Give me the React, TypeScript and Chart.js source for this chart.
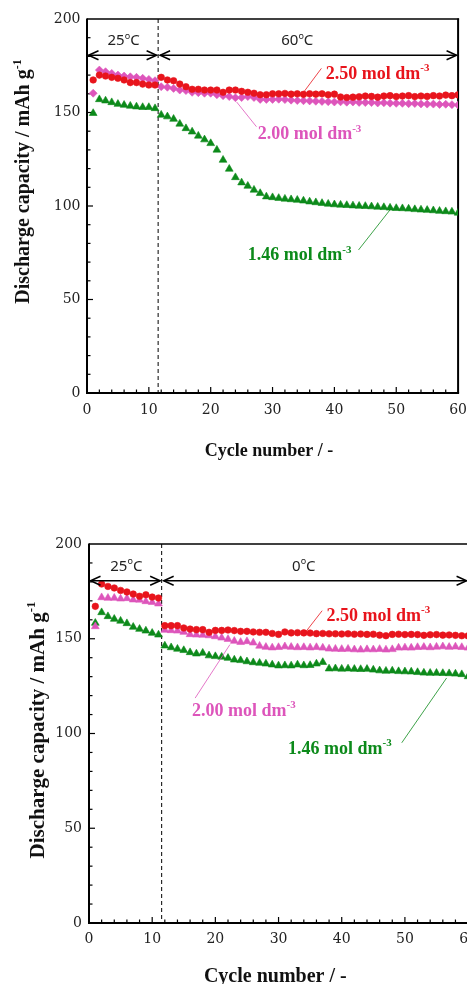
import React, { useEffect, useRef } from "react";
import { Chart, registerables } from "chart.js";

Chart.register(...registerables);

// ---------------- data ----------------
const cycles = [
  1, 2, 3, 4, 5, 6, 7, 8, 9, 10, 11, 12, 13, 14, 15, 16, 17, 18, 19, 20,
  21, 22, 23, 24, 25, 26, 27, 28, 29, 30, 31, 32, 33, 34, 35, 36, 37, 38, 39, 40,
  41, 42, 43, 44, 45, 46, 47, 48, 49, 50, 51, 52, 53, 54, 55, 56, 57, 58, 59, 60,
];

// Upper panel: 25 °C -> 60 °C
const top250 = [
  167.4, 170.0, 169.5, 168.8, 168.3, 167.4, 166.0, 166.0, 165.2, 164.7,
  164.7, 168.8, 167.4, 167.0, 165.2, 163.8, 162.4, 162.4, 162.0, 162.0,
  162.0, 160.8, 162.0, 162.0, 161.3, 160.8, 160.3, 159.5, 159.5, 160.0,
  160.0, 160.2, 159.8, 160.0, 159.7, 160.0, 159.8, 160.0, 159.5, 159.8,
  158.3, 158.0, 158.2, 158.4, 158.8, 158.6, 158.2, 158.8, 159.0, 158.5,
  158.8, 159.0, 158.5, 158.8, 158.6, 159.0, 158.8, 159.3, 159.0, 159.4,
];
const top200 = [
  160.3, 172.7, 171.8, 170.9, 170.0, 169.5, 169.1, 168.8, 168.3, 167.7,
  167.0, 163.8, 163.5, 162.9, 162.0, 161.7, 160.8, 160.6, 160.3, 160.3,
  159.5, 159.0, 158.5, 157.9, 158.0, 158.5, 158.0, 157.0, 157.0, 157.0,
  157.1, 156.9, 156.6, 156.4, 156.3, 156.2, 156.0, 155.9, 155.8, 155.6,
  155.7, 155.5, 155.6, 155.4, 155.3, 155.3, 155.1, 155.2, 155.0, 154.9,
  154.9, 154.7, 154.8, 154.6, 154.5, 154.5, 154.3, 154.4, 154.2, 154.0,
];
const top146 = [
  149.6, 157.0, 156.3, 155.4, 154.5, 154.0, 153.5, 153.1, 152.8, 152.8,
  152.2, 148.7, 147.8, 146.5, 143.9, 141.5, 139.7, 137.5, 135.5, 133.5,
  130.0, 124.6, 119.8, 115.3, 112.5, 110.7, 108.6, 106.8, 105.0, 104.6,
  104.2, 103.8, 103.5, 103.2, 102.8, 102.3, 101.9, 101.5, 101.1, 100.8,
  100.6, 100.4, 100.2, 100.0, 99.9, 99.7, 99.5, 99.3, 99.0, 98.8,
  98.7, 98.5, 98.2, 98.0, 97.8, 97.6, 97.3, 97.1, 96.9, 96.3,
];

// Lower panel: 25 °C -> 0 °C
const bot250 = [
  167.1, 178.9, 177.6, 176.8, 175.5, 174.7, 173.6, 172.4, 173.2, 172.0,
  171.5, 156.9, 156.9, 156.9, 155.7, 155.1, 154.8, 154.8, 153.4, 154.4,
  154.4, 154.6, 154.3, 153.9, 153.9, 153.6, 153.4, 153.4, 152.8, 152.3,
  153.6, 153.1, 153.2, 153.1, 153.0, 152.7, 152.8, 152.6, 152.6, 152.5,
  152.6, 152.4, 152.5, 152.3, 152.4, 151.9, 151.6, 152.3, 152.4, 152.2,
  152.3, 152.2, 151.8, 152.1, 152.2, 151.9, 152.0, 151.8, 151.6, 151.5,
];
const bot200 = [
  156.5, 171.8, 171.5, 171.5, 171.1, 171.3, 170.6, 170.5, 169.7, 169.3,
  168.5, 154.6, 154.4, 154.2, 153.5, 152.3, 152.1, 152.0, 151.7, 151.2,
  150.5, 149.8, 148.8, 148.2, 148.6, 147.9, 146.2, 145.6, 145.3, 145.5,
  145.9, 145.6, 145.4, 145.5, 145.3, 145.5, 145.2, 144.7, 144.6, 144.5,
  144.6, 144.3, 144.2, 144.4, 144.3, 144.5, 144.2, 144.4, 145.2, 145.3,
  145.2, 145.5, 145.6, 145.4, 145.7, 145.9, 145.6, 145.8, 145.5, 145.2,
];
const bot146 = [
  158.3, 163.9, 161.8, 160.4, 159.4, 158.1, 156.2, 155.1, 154.2, 153.0,
  152.1, 146.3, 145.4, 144.6, 143.9, 142.8, 142.1, 142.5, 141.1, 140.7,
  140.4, 139.8, 138.9, 138.6, 138.0, 137.5, 137.2, 136.8, 136.3, 135.8,
  135.9, 135.8, 136.3, 135.9, 136.0, 136.8, 137.6, 134.2, 134.3, 134.1,
  134.2, 134.0, 133.9, 134.0, 133.6, 133.2, 133.0, 133.1, 132.8, 132.7,
  132.6, 132.3, 132.0, 131.9, 131.9, 131.8, 131.7, 131.5, 131.2, 130.1,
];

const seriesNames = ["2.50 mol dm", "2.00 mol dm", "1.46 mol dm"];
const seriesExp = "-3";
const topTemps = ["25", "60"];
const botTemps = ["25", "0"];
const xTitle = "Cycle number / -";
const yTitle = "Discharge capacity / mAh g";
const yTitleExp = "-1";
const switchCycle = 11.5;

// ---------------- styles ----------------
const RED = "#e8141c";
const PINK = "#dd55bb";
const GREEN = "#0c8a1a";
const SERIF = '"Liberation Serif", "Times New Roman", serif';
const TICKF = '"DejaVu Serif", serif';
const SANS = '"Noto Sans", Lato, sans-serif';

type Part = { t: string; sup?: boolean };

function drawRich(
  ctx: CanvasRenderingContext2D,
  parts: Part[],
  x: number,
  yc: number,
  size: number,
  family: string,
  weight: string,
  color: string,
  align: "left" | "center"
) {
  ctx.save();
  ctx.fillStyle = color;
  ctx.textBaseline = "alphabetic";
  ctx.textAlign = "left";
  const fontOf = (p: Part) =>
    `${weight} ${p.sup ? Math.round(size * 0.62) : size}px ${family}`;
  const widths = parts.map((p) => {
    ctx.font = fontOf(p);
    return ctx.measureText(p.t).width;
  });
  const total = widths.reduce((a, b) => a + b, 0);
  let cx = align === "center" ? x - total / 2 : x;
  const base = yc + size * 0.34;
  parts.forEach((p, i) => {
    ctx.font = fontOf(p);
    ctx.fillText(p.t, cx, p.sup ? base - size * 0.42 : base);
    cx += widths[i];
  });
  ctx.restore();
}

function drawArrow(ctx: CanvasRenderingContext2D, x1: number, x2: number, y: number) {
  ctx.save();
  ctx.strokeStyle = "#000";
  ctx.lineWidth = 1.5;
  ctx.beginPath();
  ctx.moveTo(x1, y);
  ctx.lineTo(x2, y);
  ctx.stroke();
  const head = (xt: number, dir: number) => {
    ctx.beginPath();
    ctx.moveTo(xt + dir * 10, y - 4.5);
    ctx.lineTo(xt, y);
    ctx.lineTo(xt + dir * 10, y + 4.5);
    ctx.stroke();
  };
  head(x1, 1);
  head(x2, -1);
  ctx.restore();
}

type Note = { text: string; color: string; x: number; y: number; line: number[] };

type Panel = {
  width: number;
  height: number;
  top: number;
  padTop: number;
  padRight: number;
  yWidth: number;
  xHeight: number;
  yTickPad: number;
  xTickPad: number;
  series: number[][];
  styles: string[];
  temps: string[];
  notes: Note[];
  yTitlePos: [number, number, number];
  xTitlePos: [number, number, number];
  rightBorder: boolean;
};

const topPanel: Panel = {
  width: 476,
  height: 490,
  top: 0,
  padTop: 19,
  padRight: 0,
  yWidth: 87,
  xHeight: 97,
  yTickPad: 6.5,
  xTickPad: 9,
  series: [top250, top200, top146],
  styles: ["circle", "rectRot", "triangle"],
  temps: topTemps,
  notes: [
    { text: seriesNames[0], color: RED, x: 38.6, y: 171.3, line: [37.9, 173.6, 34.9, 160.3] },
    { text: seriesNames[1], color: PINK, x: 27.6, y: 138.9, line: [27.4, 142.4, 24.2, 155.6] },
    { text: seriesNames[2], color: GREEN, x: 26.0, y: 74.3, line: [43.9, 76.5, 49.2, 98.8] },
  ],
  yTitlePos: [22.5, 181.5, 20],
  xTitlePos: [269, 450, 18],
  rightBorder: true,
};

const botPanel: Panel = {
  width: 485,
  height: 500,
  top: 500,
  padTop: 44,
  padRight: 0,
  yWidth: 89,
  xHeight: 77,
  yTickPad: 7,
  xTickPad: 8,
  series: [bot250, bot200, bot146],
  styles: ["circle", "triangle", "triangle"],
  temps: botTemps,
  notes: [
    { text: seriesNames[0], color: RED, x: 37.6, y: 162.7, line: [36.9, 164.8, 34.2, 153.2] },
    { text: seriesNames[1], color: PINK, x: 16.3, y: 112.6, line: [16.8, 118.7, 22.3, 146.9] },
    { text: seriesNames[2], color: GREEN, x: 31.5, y: 92.6, line: [49.5, 95.1, 56.6, 129.3] },
  ],
  yTitlePos: [36.7, 230, 21],
  xTitlePos: [275.3, 475, 20],
  rightBorder: false,
};

const COLORS = [RED, PINK, GREEN];
const RADII: Record<string, number> = { circle: 3.3, rectRot: 4, triangle: 4.5 };

function makeChart(canvas: HTMLCanvasElement, p: Panel) {
  const deco = {
    id: "deco",
    beforeDatasetsDraw(chart: any) {
      const { ctx, chartArea: a, scales } = chart;
      const x = scales.x;
      const y = scales.y;
      ctx.save();
      // dashed separator
      const sx = x.getPixelForValue(switchCycle);
      ctx.strokeStyle = "#000";
      ctx.lineWidth = 1;
      ctx.setLineDash([4, 3]);
      ctx.beginPath();
      ctx.moveTo(sx, a.top);
      ctx.lineTo(sx, a.bottom);
      ctx.stroke();
      ctx.setLineDash([]);
      // inward ticks
      ctx.lineWidth = 1.2;
      for (let v = 10; v < 200; v += 10) {
        const py = y.getPixelForValue(v);
        const len = v % 50 === 0 ? 6 : 3.5;
        ctx.beginPath();
        ctx.moveTo(a.left, py);
        ctx.lineTo(a.left + len, py);
        ctx.stroke();
      }
      for (let c = 2; c < 60; c += 2) {
        const px = x.getPixelForValue(c);
        const len = c % 10 === 0 ? 6 : 3.5;
        ctx.beginPath();
        ctx.moveTo(px, a.bottom);
        ctx.lineTo(px, a.bottom - len);
        ctx.stroke();
      }
      // frame
      ctx.lineWidth = 1.5;
      ctx.beginPath();
      ctx.moveTo(a.left, a.top);
      ctx.lineTo(a.right + 1, a.top);
      ctx.stroke();
      ctx.lineWidth = 2;
      ctx.beginPath();
      ctx.moveTo(a.left, a.top - 0.5);
      ctx.lineTo(a.left, a.bottom);
      ctx.lineTo(a.right + 1, a.bottom);
      ctx.stroke();
      if (p.rightBorder) {
        ctx.beginPath();
        ctx.moveTo(a.right, a.top - 0.5);
        ctx.lineTo(a.right, a.bottom);
        ctx.stroke();
      }
      ctx.restore();
    },
    afterDatasetsDraw(chart: any) {
      const { ctx, chartArea: a, scales } = chart;
      const x = scales.x;
      const y = scales.y;
      const sx = x.getPixelForValue(switchCycle);
      // temperature arrows
      const ay = y.getPixelForValue(180.6);
      drawArrow(ctx, a.left + 1.5, sx - 1.5, ay);
      drawArrow(ctx, sx + 2, x.getPixelForValue(60) - 1.5, ay);
      const ly = y.getPixelForValue(188.7);
      drawRich(ctx, [{ t: p.temps[0] }, { t: "o", sup: true }, { t: "C" }],
        (a.left + sx) / 2 + 1, ly, 15, SANS, "normal", "#222", "center");
      drawRich(ctx, [{ t: p.temps[1] }, { t: "o", sup: true }, { t: "C" }],
        x.getPixelForValue(34), ly, 15, SANS, "normal", "#222", "center");
      // series notes with leader lines
      p.notes.forEach((n) => {
        ctx.save();
        ctx.strokeStyle = n.color;
        ctx.lineWidth = 0.8;
        ctx.beginPath();
        ctx.moveTo(x.getPixelForValue(n.line[0]), y.getPixelForValue(n.line[1]));
        ctx.lineTo(x.getPixelForValue(n.line[2]), y.getPixelForValue(n.line[3]));
        ctx.stroke();
        ctx.restore();
        drawRich(ctx, [{ t: n.text }, { t: seriesExp, sup: true }],
          x.getPixelForValue(n.x), y.getPixelForValue(n.y), 18, SERIF, "bold", n.color, "left");
      });
      // axis titles
      const [tx, ty, ts] = p.yTitlePos;
      ctx.save();
      ctx.translate(tx, ty);
      ctx.rotate(-Math.PI / 2);
      drawRich(ctx, [{ t: yTitle }, { t: yTitleExp, sup: true }], 0, 0, ts, SERIF, "bold", "#111", "center");
      ctx.restore();
      const [qx, qy, qs] = p.xTitlePos;
      drawRich(ctx, [{ t: xTitle }], qx, qy, qs, SERIF, "bold", "#111", "center");
    },
  };

  return new Chart(canvas, {
    type: "scatter",
    data: {
      datasets: p.series.map((vals, i) => ({
        label: seriesNames[i],
        data: cycles.map((c, k) => ({ x: c, y: vals[k] })),
        pointStyle: p.styles[i] as any,
        pointRadius: RADII[p.styles[i]],
        pointBackgroundColor: COLORS[i],
        pointBorderColor: COLORS[i],
        pointBorderWidth: 0.6,
        backgroundColor: COLORS[i],
        borderColor: COLORS[i],
        showLine: false,
      })),
    },
    options: {
      animation: false,
      responsive: false,
      events: [],
      layout: { padding: { top: p.padTop, right: p.padRight, left: 0, bottom: 0 } },
      plugins: { legend: { display: false }, tooltip: { enabled: false }, title: { display: false } },
      scales: {
        x: {
          type: "linear",
          min: 0,
          max: 60,
          grid: { display: false, drawTicks: false },
          border: { display: false },
          ticks: { stepSize: 10, padding: p.xTickPad, color: "#222", font: { family: TICKF, size: 14 } },
          afterFit: (s: any) => {
            s.height = p.xHeight;
          },
        },
        y: {
          type: "linear",
          min: 0,
          max: 200,
          grid: { display: false, drawTicks: false },
          border: { display: false },
          ticks: { stepSize: 50, padding: p.yTickPad, color: "#222", font: { family: TICKF, size: 14 } },
          afterFit: (s: any) => {
            s.width = p.yWidth;
          },
        },
      },
    },
    plugins: [deco],
  } as any);
}

export default function App() {
  const topRef = useRef<HTMLCanvasElement>(null);
  const botRef = useRef<HTMLCanvasElement>(null);

  useEffect(() => {
    const charts: Chart[] = [];
    if (topRef.current) charts.push(makeChart(topRef.current, topPanel));
    if (botRef.current) charts.push(makeChart(botRef.current, botPanel));
    return () => charts.forEach((c) => c.destroy());
  }, []);

  return (
    <div
      style={{
        position: "fixed",
        left: 0,
        top: 0,
        width: 467,
        height: 984,
        overflow: "hidden",
        background: "#fff",
      }}
    >
      <canvas
        ref={topRef}
        width={topPanel.width}
        height={topPanel.height}
        style={{ position: "absolute", left: 0, top: topPanel.top }}
      />
      <canvas
        ref={botRef}
        width={botPanel.width}
        height={botPanel.height}
        style={{ position: "absolute", left: 0, top: botPanel.top }}
      />
    </div>
  );
}
